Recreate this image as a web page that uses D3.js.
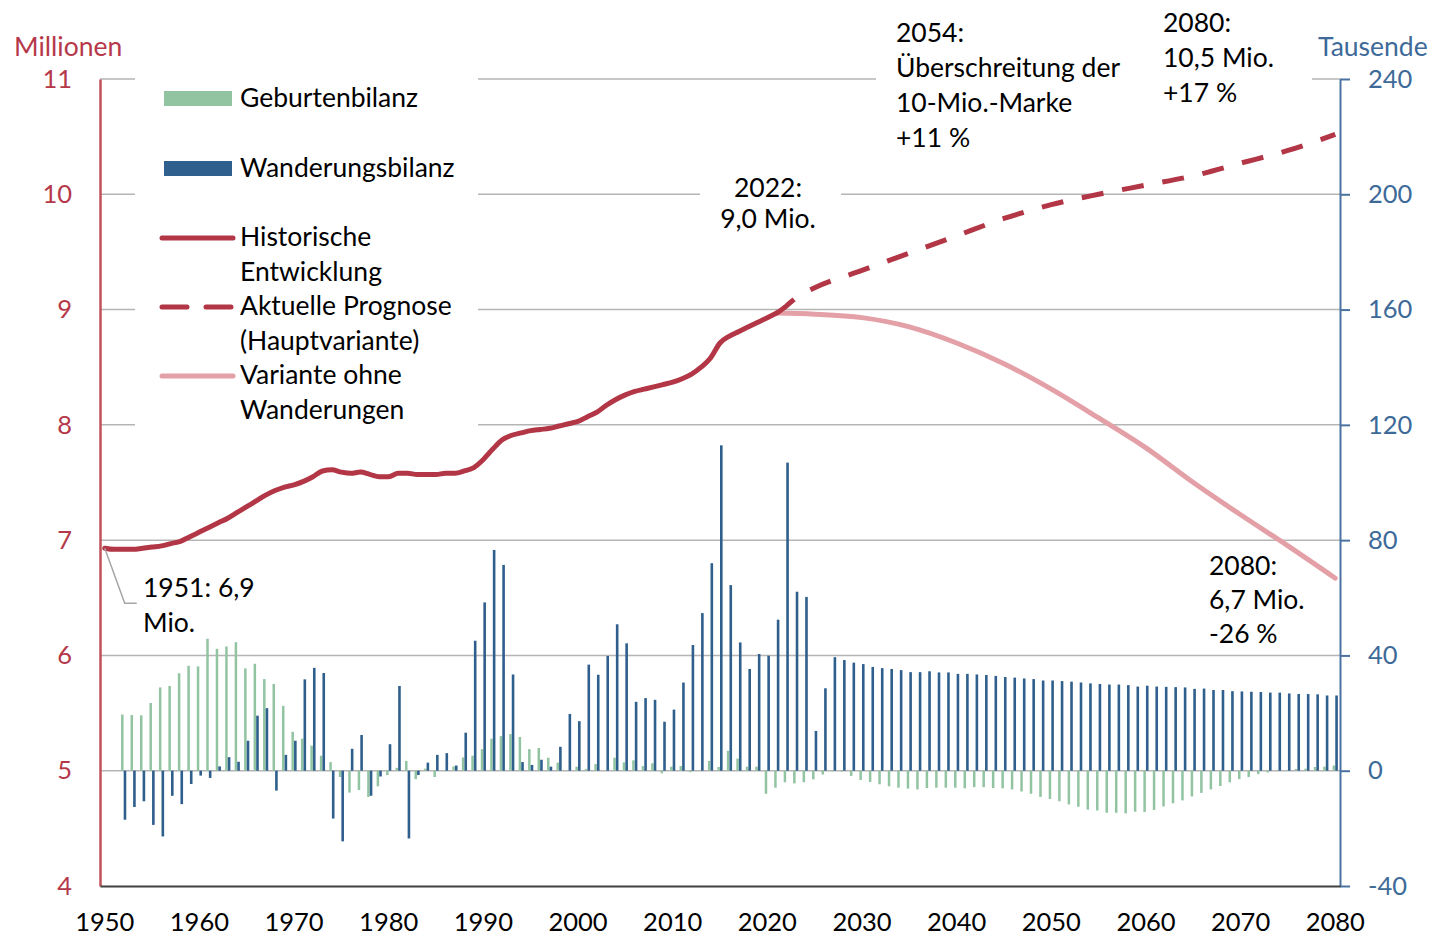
<!DOCTYPE html>
<html>
<head>
<meta charset="utf-8">
<script src="https://cdn.jsdelivr.net/npm/d3@7"></script>
<style>
  body { margin: 0; background: #fff; }
  svg text { font-family: Lato, "Noto Sans", sans-serif; }
</style>
</head>
<body>
<svg id="chart" width="1438" height="936"></svg>
<script>
// categories on the x axis
const years = d3.range(1950, 2081);
const xTickYears = [1950, 1960, 1970, 1980, 1990, 2000, 2010, 2020, 2030, 2040, 2050, 2060, 2070, 2080];
const leftTicks = [4, 5, 6, 7, 8, 9, 10, 11];
const rightTicks = [-40, 0, 40, 80, 120, 160, 200, 240];

// bars start in 1952 (thousands)
const barStartYear = 1952;
const birthBalance = [
  19.5, 19.3, 19.2, 23.5, 28.9, 29.4, 33.8, 36.4, 36.2, 45.8,   // 1952-1961
  42.3, 43.1, 44.6, 35.5, 37.1, 31.8, 30.1, 22.5, 13.5, 11.1,   // 1962-1971
  8.7, 5.2, 3.0, -2.2, -7.6, -6.7, -9.1, -5.4, -1.5, 1.0,       // 1972-1981
  3.4, -2.9, 0.7, -2.2, 0.2, 1.5, 4.6, 5.2, 7.5, 11.1,          // 1982-1991
  12.0, 12.7, 11.7, 7.5, 7.9, 4.5, 2.8, 0.2, 1.4, 0.6,          // 1992-2001
  2.3, 0.1, 4.5, 2.9, 3.6, 1.6, 2.6, -0.9, 1.4, 1.6,            // 2002-2011
  -0.5, 0.1, 3.4, 1.3, 6.9, 4.2, 1.4, 1.4, -8.0, -5.9,          // 2012-2021
  -4.0, -4.4, -4.0, -3.0, -1.3, -0.2, -0.3, -1.8, -3.2, -3.9,   // 2022-2031
  -4.7, -5.4, -5.9, -6.2, -6.5, -6.0, -5.9, -5.9, -5.9, -6.1,   // 2032-2041
  -5.7, -5.7, -6.0, -6.1, -6.5, -7.2, -8.0, -9.1, -9.8, -10.6,  // 2042-2051
  -11.7, -12.5, -13.5, -13.8, -14.6, -14.6, -14.8, -14.2, -14.3, -13.6, // 2052-2061
  -12.4, -11.3, -10.3, -8.9, -7.7, -6.5, -5.3, -4.0, -2.9, -2.2, // 2062-2071
  -1.2, -0.6, -0.1, 0.1, 0.6, 0.7, 1.3, 1.4, 1.8                // 2072-2080
];
const migrationBalance = [
  -17.0, -12.6, -10.6, -18.8, -22.8, -8.7, -11.6, -4.6, -1.7, -2.5, // 1952-1961
  1.5, 4.7, 3.1, 10.4, 19.1, 21.7, -6.9, 5.5, 10.4, 31.7,        // 1962-1971
  35.7, 33.9, -16.6, -24.5, 7.6, 12.4, -8.7, -2.0, 9.2, 29.4,    // 1972-1981
  -23.5, -1.5, 2.8, 5.5, 6.1, 1.8, 13.2, 45.1, 58.4, 76.6,       // 1982-1991
  71.4, 33.4, 3.0, 2.0, 3.8, 1.4, 8.3, 19.7, 17.2, 36.8,         // 1992-2001
  33.3, 39.8, 50.8, 44.2, 23.9, 25.2, 24.6, 17.0, 21.2, 30.6,    // 2002-2011
  43.6, 54.7, 72.0, 112.9, 64.4, 44.5, 35.3, 40.5, 39.9, 52.4,   // 2012-2021
  106.9, 62.1, 60.3, 13.8, 28.6, 39.4, 38.4, 37.5, 37.0, 36.0,   // 2022-2031
  35.6, 35.3, 34.9, 34.2, 34.2, 34.5, 34.1, 34.1, 33.6, 33.6,    // 2032-2041
  33.4, 33.2, 32.9, 32.5, 32.3, 32.0, 31.8, 31.3, 31.3, 31.1,    // 2042-2051
  30.9, 30.6, 30.3, 30.1, 29.9, 29.9, 29.7, 29.2, 29.5, 29.2,    // 2052-2061
  29.1, 29.0, 28.9, 28.4, 28.5, 28.0, 28.0, 27.6, 27.5, 27.4,    // 2062-2071
  27.3, 27.1, 27.1, 26.8, 26.6, 26.6, 26.5, 26.1, 26.1           // 2072-2080
];

// population lines (millions)
const histStartYear = 1950;
const historicPop = [
  6.93, 6.92, 6.92, 6.92, 6.93, 6.94, 6.95, 6.97, 6.99, 7.03,   // 1950-1959
  7.07, 7.11, 7.15, 7.19, 7.24, 7.29, 7.34, 7.39, 7.43, 7.46,   // 1960-1969
  7.48, 7.51, 7.55, 7.60, 7.61, 7.59, 7.58, 7.59, 7.57, 7.55,   // 1970-1979
  7.55, 7.58, 7.58, 7.57, 7.57, 7.57, 7.58, 7.58, 7.60, 7.63,   // 1980-1989
  7.70, 7.79, 7.87, 7.91, 7.93, 7.95, 7.96, 7.97, 7.99, 8.01,   // 1990-1999
  8.03, 8.07, 8.11, 8.17, 8.22, 8.26, 8.29, 8.31, 8.33, 8.35,   // 2000-2009
  8.37, 8.40, 8.44, 8.50, 8.58, 8.71, 8.77, 8.81, 8.85, 8.89,   // 2010-2019
  8.93, 8.97                                                    // 2020-2021
];
const forecastYears = [2021, 2022, 2023, 2024, 2025, 2030, 2035, 2040, 2045, 2050, 2055, 2060, 2065, 2070, 2075, 2080];
const forecastPop   = [8.97, 9.03, 9.10, 9.15, 9.19, 9.34, 9.49, 9.64, 9.79, 9.91, 10.00, 10.08, 10.16, 10.27, 10.38, 10.52];
const noMigYears = [2021, 2025, 2030, 2035, 2040, 2045, 2050, 2055, 2060, 2065, 2070, 2075, 2080];
const noMigPop   = [8.97, 8.96, 8.93, 8.85, 8.71, 8.53, 8.31, 8.06, 7.80, 7.50, 7.22, 6.95, 6.67];

const red = "#b23645", blue = "#2f5f8c", green = "#92c4a2", pink = "#e4a0a7";
const axisRed = "#c0505a", axisBlue = "#4a72a0";
const textSize = 26.5, numSize = 25.5;

const svg = d3.select("#chart");
const x = d3.scaleBand().domain(years).range([100, 1340]);
const cx = yr => x(yr) + x.bandwidth() / 2;
const yL = d3.scaleLinear().domain([4, 11]).range([886, 79]);
const yR = d3.scaleLinear().domain([-40, 240]).range([886, 79]);

// gridlines
svg.append("g").selectAll("line")
  .data(leftTicks.slice(1))
  .enter().append("line")
    .attr("x1", 100).attr("x2", 1340)
    .attr("y1", d => yL(d)).attr("y2", d => yL(d))
    .attr("stroke", "#b5b5b5").attr("stroke-width", 1.5);

// white boxes behind legend and labels (hide gridlines)
const boxes = [[135, 70, 343, 372], [700, 168, 141, 66], [876, 5, 254, 150], [1130, 5, 182, 110]];
svg.append("g").selectAll("rect")
  .data(boxes)
  .enter().append("rect")
    .attr("x", d => d[0]).attr("y", d => d[1])
    .attr("width", d => d[2]).attr("height", d => d[3])
    .attr("fill", "#fff");

// bars
const barData = birthBalance.map((v, i) => ({ year: barStartYear + i, birth: v, mig: migrationBalance[i] }));
const bars = svg.append("g");
bars.selectAll(".birth")
  .data(barData)
  .enter().append("rect")
    .attr("class", "birth")
    .attr("x", d => cx(d.year) - 2.6)
    .attr("width", 2.5)
    .attr("y", d => yR(Math.max(0, d.birth)))
    .attr("height", d => Math.abs(yR(d.birth) - yR(0)))
    .attr("fill", green);
bars.selectAll(".mig")
  .data(barData)
  .enter().append("rect")
    .attr("class", "mig")
    .attr("x", d => cx(d.year))
    .attr("width", 2.6)
    .attr("y", d => yR(Math.max(0, d.mig)))
    .attr("height", d => Math.abs(yR(d.mig) - yR(0)))
    .attr("fill", blue);

// axes
const plainNum = d => String(d);
const leftAxis = svg.append("g").attr("transform", "translate(100,0)")
  .call(d3.axisLeft(yL).tickValues(leftTicks).tickFormat(plainNum).tickSize(0).tickSizeOuter(0).tickPadding(28));
leftAxis.select(".domain").attr("stroke", axisRed).attr("stroke-width", 2.5);
leftAxis.selectAll("text").attr("fill", "#b5384a").attr("font-size", numSize);

const rightAxis = svg.append("g").attr("transform", "translate(1340,0)")
  .call(d3.axisRight(yR).tickValues(rightTicks).tickFormat(plainNum).tickSize(10).tickSizeOuter(0).tickPadding(18));
rightAxis.select(".domain").attr("stroke", axisBlue).attr("stroke-width", 2);
rightAxis.selectAll(".tick line").attr("stroke", axisBlue).attr("stroke-width", 2);
rightAxis.selectAll("text").attr("fill", "#3d6a98").attr("font-size", numSize);

const bottomAxis = svg.append("g").attr("transform", "translate(0,886)")
  .call(d3.axisBottom(x).tickValues(xTickYears).tickSize(0).tickSizeOuter(0).tickPadding(27));
bottomAxis.select(".domain").attr("stroke", "#404040").attr("stroke-width", 2);
bottomAxis.selectAll("text").attr("fill", "#000").attr("font-size", numSize);

// lines
const line = d3.line().x(d => cx(d[0])).y(d => yL(d[1])).curve(d3.curveMonotoneX);
const histPts = historicPop.map((v, i) => [histStartYear + i, v]);
const fcPts = forecastPop.map((v, i) => [forecastYears[i], v]);
const nmPts = noMigPop.map((v, i) => [noMigYears[i], v]);

svg.append("path").attr("d", line(nmPts))
  .attr("fill", "none").attr("stroke", pink).attr("stroke-width", 5).attr("stroke-linecap", "round");
svg.append("path").attr("d", line(histPts))
  .attr("fill", "none").attr("stroke", red).attr("stroke-width", 5).attr("stroke-linecap", "round");
svg.append("path").attr("d", line(fcPts))
  .attr("fill", "none").attr("stroke", red).attr("stroke-width", 5).attr("stroke-dasharray", "22,19");

// axis titles
svg.append("text").attr("x", 14).attr("y", 56).attr("fill", "#b5384a").attr("font-size", textSize).text("Millionen");
svg.append("text").attr("x", 1318).attr("y", 56).attr("fill", "#3d6a98").attr("font-size", textSize).text("Tausende");

// legend
const lg = svg.append("g").attr("font-size", textSize).attr("fill", "#000");
lg.append("rect").attr("x", 164).attr("y", 91).attr("width", 68).attr("height", 15).attr("fill", green);
lg.append("text").attr("x", 240).attr("y", 107).text("Geburtenbilanz");
lg.append("rect").attr("x", 164).attr("y", 161).attr("width", 68).attr("height", 15).attr("fill", blue);
lg.append("text").attr("x", 240).attr("y", 177).text("Wanderungsbilanz");
lg.append("line").attr("x1", 162).attr("x2", 233).attr("y1", 238).attr("y2", 238)
  .attr("stroke", red).attr("stroke-width", 5).attr("stroke-linecap", "round");
lg.append("text").attr("x", 240).attr("y", 246).text("Historische");
lg.append("text").attr("x", 240).attr("y", 281).text("Entwicklung");
lg.append("line").attr("x1", 162).attr("x2", 233).attr("y1", 307).attr("y2", 307)
  .attr("stroke", red).attr("stroke-width", 5).attr("stroke-dasharray", "25,19").attr("stroke-linecap", "round");
lg.append("text").attr("x", 240).attr("y", 315).text("Aktuelle Prognose");
lg.append("text").attr("x", 240).attr("y", 350).text("(Hauptvariante)");
lg.append("line").attr("x1", 162).attr("x2", 233).attr("y1", 376).attr("y2", 376)
  .attr("stroke", pink).attr("stroke-width", 5).attr("stroke-linecap", "round");
lg.append("text").attr("x", 240).attr("y", 384).text("Variante ohne");
lg.append("text").attr("x", 240).attr("y", 419).text("Wanderungen");

// annotations
function label(x0, y0, lines, anchor, step) {
  const t = svg.append("text").attr("font-size", textSize).attr("fill", "#000").attr("text-anchor", anchor || "start");
  lines.forEach((s, i) => t.append("tspan").attr("x", x0).attr("y", y0 + i * (step || 35)).text(s));
}
label(143, 597, ["1951: 6,9", "Mio."]);
label(768, 197, ["2022:", "9,0 Mio."], "middle", 31);
label(896, 42, ["2054:", "Überschreitung der", "10-Mio.-Marke", "+11 %"]);
label(1163, 32, ["2080:", "10,5 Mio.", "+17 %"]);
label(1209, 575, ["2080:", "6,7 Mio.", "-26 %"], "start", 34);

// leader line for 1951
const p0 = [cx(histStartYear), yL(historicPop[0])];
svg.append("polyline")
  .attr("points", [p0, [p0[0] + 20, p0[1] + 55], [p0[0] + 32, p0[1] + 55]].map(p => p.join(",")).join(" "))
  .attr("fill", "none").attr("stroke", "#a6a6a6").attr("stroke-width", 1.5);
</script>
</body>
</html>
